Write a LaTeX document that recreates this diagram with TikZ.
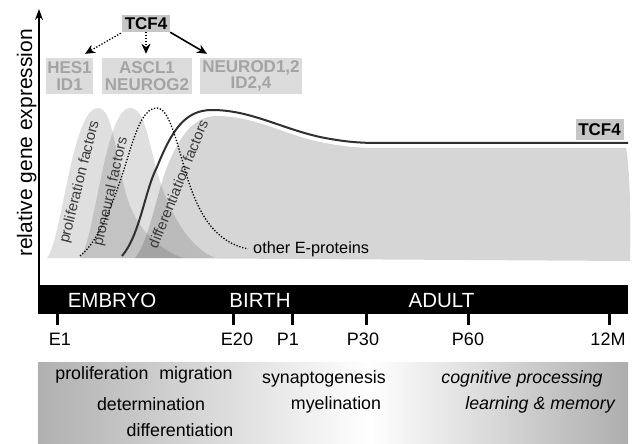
\documentclass[tikz,border=0pt]{standalone}
\usepackage{fontspec}
\setmainfont{Liberation Sans}
\usetikzlibrary{arrows.meta}
\definecolor{boxgray}{HTML}{DCDCDC}
\definecolor{boxtext}{HTML}{A4A4A4}
\definecolor{tcfgray}{HTML}{C6C6C6}
\definecolor{linegray}{HTML}{303030}
\definecolor{labgray}{HTML}{3A3A3A}
\begin{document}
\begin{tikzpicture}[x=1pt,y=-1pt,
  genebox/.style={fill=boxgray, text=boxtext, font=\fontsize{17}{16.5}\selectfont\bfseries, align=center, inner sep=0pt, minimum height=36pt},
  tcfbox/.style={fill=tcfgray, font=\fontsize{17}{17}\selectfont\bfseries, inner sep=0pt, minimum width=48pt},
  barlab/.style={text=white, font=\fontsize{20.5}{20.5}\selectfont, anchor=base, inner sep=0pt},
  ticklab/.style={font=\fontsize{18}{18}\selectfont, anchor=base, inner sep=0pt},
  actlab/.style={font=\fontsize{17.8}{17.8}\selectfont, anchor=base, inner sep=0pt},
  rotlab/.style={font=\fontsize{14.8}{14.8}\selectfont, text=labgray, inner sep=0pt},
  bump/.style={fill=black, fill opacity=0.125, draw=none},
  tickmark/.style={line width=3pt},
  arr/.style={-{Stealth[length=10pt,width=9pt]}, line width=1.6pt},
  dots/.style={dash pattern=on 1.3pt off 1.7pt, line width=1.3pt}
]
\useasboundingbox (0,0) rectangle (633,444);

% expression shapes
\path[bump] (47,258) .. controls (62,240) and (72,108) .. (98,108)
  .. controls (112,108) and (115,150) .. (125,190)
  .. controls (135,230) and (160,250) .. (183,258) -- cycle;
\path[bump] (80,258) .. controls (95,240) and (105,108) .. (130,108)
  .. controls (145,108) and (148,140) .. (158,175)
  .. controls (170,215) and (190,248) .. (215,258) -- cycle;
\path[bump, fill opacity=0.16] (135,258) .. controls (150,240) and (158,185) .. (170,160)
  .. controls (182,133) and (195,116) .. (217,116)
  .. controls (255,116) and (285,135) .. (320,142)
  .. controls (345,147) and (360,148) .. (380,148) -- (626,148)
  .. controls (630,170) and (631,220) .. (630,261) -- cycle;

% rotated labels
\node[rotlab, rotate=76] (prolab) at (80,182) {proliferation factors};
\node[rotlab, rotate=77] (pnlab) at (111,192) {proneural factors};
\node[rotlab, rotate=68] (difflab) at (178,184) {differentiation factors};

% TCF4 curve
\draw[line width=2pt, linegray] (122,256) .. controls (140,235) and (145,190) .. (157,167)
  .. controls (172,130) and (185,110) .. (212,110)
  .. controls (250,110) and (280,128) .. (320,137)
  .. controls (345,142) and (360,143) .. (380,143) -- (628,143);
% other E-proteins curve
\draw[dots, black] (80,256) .. controls (100,240) and (115,200) .. (130,150)
  .. controls (138,125) and (145,108) .. (157,108)
  .. controls (168,108) and (175,135) .. (185,170)
  .. controls (198,215) and (215,242) .. (248,249);
\node[font=\fontsize{16.3}{16.3}\selectfont, anchor=base west, inner sep=0pt] (oep) at (253,253) {other E-proteins};

\node[tcfbox, minimum height=21pt] (tcfr) at (599.5,129.5) {TCF4};

% top regulators
\node[tcfbox, minimum height=17pt] (tcf) at (146,23.5) {TCF4};
\node[genebox, minimum width=47pt] (hes) at (69.5,76) {HES1\\ID1};
\node[genebox, minimum width=90pt] (asc) at (147,76) {ASCL1\\NEUROG2};
\node[genebox, minimum width=102pt] (neu) at (251,76) {NEUROD1,2\\ID2,4};
\draw[arr, dots] ([shift={(-1pt,-1pt)}]tcf.south west) -- ([shift={(15.5pt,4pt)}]hes.north);
\draw[arr, dots] (tcf.south) -- ([shift={(-1pt,4pt)}]asc.north);
\draw[arr] (tcf.south east) -- ([shift={(-44pt,4pt)}]neu.north);

% axis
\coordinate (ax0) at (39,286);
\coordinate (ax1) at (39,9);
\draw[line width=1.5pt, -{Stealth[length=11pt,width=8pt]}] (ax0) -- (ax1);
\node[rotate=90, anchor=base, font=\fontsize{21}{21}\selectfont, inner sep=0pt] (ylab) at (32,143) {relative gene expression};

% time bar
\fill[black] (38,285) rectangle (628,314);
\node[barlab] (emb) at (112,307) {EMBRYO};
\node[barlab] (bir) at (260,307) {BIRTH};
\node[barlab] (adu) at (441.5,307) {ADULT};

\foreach \x/\lx/\t/\nm in {57/60/E1/e1, 233/237/E20/e20, 292/288/P1/p1, 366/363/P30/p30, 468.5/468/P60/p60, 609/608/12M/m12}{
  \draw[tickmark] (\x,313) -- (\x,325);
  \node[ticklab] (\nm) at (\lx,345) {\t};
}

% activity box
\fill[left color=gray!62, right color=white] (38,362) rectangle (371,443);
\fill[left color=white, right color=gray!64] (370,362) rectangle (628,443);
\node[actlab] (a1) at (144,379) {proliferation\hspace{6pt} migration};
\node[actlab] (a2) at (151,410) {determination};
\node[actlab] (a3) at (180,436) {differentiation};
\node[actlab] (a4) at (324,383) {synaptogenesis};
\node[actlab] (a5) at (336,409) {myelination};
\node[actlab, font=\fontsize{17.8}{17.8}\selectfont\itshape] (a6) at (522,383) {cognitive processing};
\node[actlab, font=\fontsize{17.8}{17.8}\selectfont\itshape] (a7) at (540,409) {learning \& memory};
\end{tikzpicture}
\end{document}
